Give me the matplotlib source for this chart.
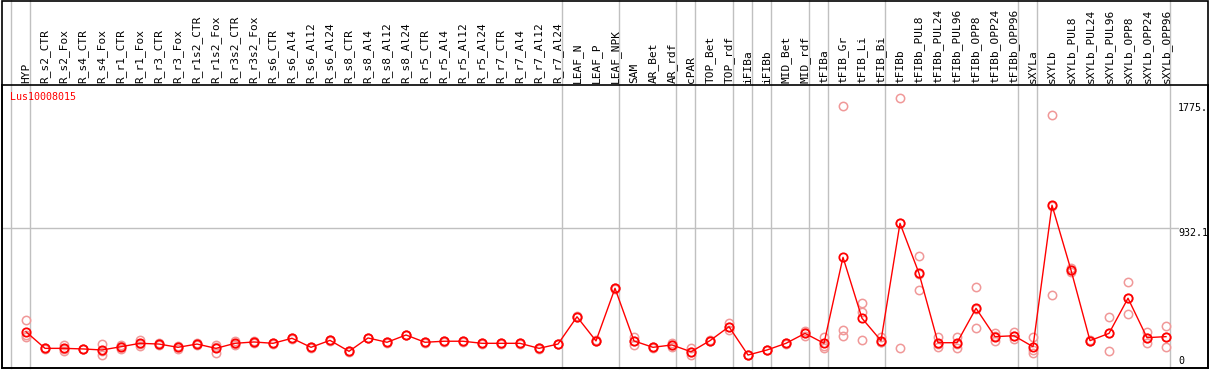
import matplotlib
matplotlib.use("Agg")
import matplotlib.pyplot as plt
import matplotlib.transforms as mtransforms
from matplotlib.patches import Rectangle

# sample columns, left to right
labels = ["HYP",
          "R_s2_CTR", "R_s2_Fox", "R_s4_CTR", "R_s4_Fox", "R_r1_CTR", "R_r1_Fox",
          "R_r3_CTR", "R_r3_Fox", "R_r1s2_CTR", "R_r1s2_Fox", "R_r3s2_CTR", "R_r3s2_Fox",
          "R_s6_CTR", "R_s6_Al4", "R_s6_Al12", "R_s6_Al24", "R_s8_CTR", "R_s8_Al4",
          "R_s8_Al12", "R_s8_Al24", "R_r5_CTR", "R_r5_Al4", "R_r5_Al12", "R_r5_Al24",
          "R_r7_CTR", "R_r7_Al4", "R_r7_Al12", "R_r7_Al24",
          "LEAF_N", "LEAF_P", "LEAF_NPK",
          "SAM", "AR_Bet", "AR_rdf", "cPAR", "TOP_Bet", "TOP_rdf", "iFIBa", "iFIBb",
          "MID_Bet", "MID_rdf", "tFIBa", "tFIB_Gr", "tFIB_Li", "tFIB_Bi",
          "tFIBb", "tFIBb_PUL8", "tFIBb_PUL24", "tFIBb_PUL96", "tFIBb_OPP8",
          "tFIBb_OPP24", "tFIBb_OPP96",
          "sXYLa", "sXYLb", "sXYLb_PUL8", "sXYLb_PUL24", "sXYLb_PUL96", "sXYLb_OPP8",
          "sXYLb_OPP24", "sXYLb_OPP96"]

# number of columns in each separated group
group_sizes = [1, 28, 3, 3, 1, 2, 1, 1, 2, 1, 3, 7, 1, 7]

# mean expression per column (the joined line)
means = [231, 119, 119, 115, 108, 130, 153, 148, 126, 148, 119, 153,
         162, 153, 187, 126, 173, 99, 189, 160, 209, 160, 167, 167, 153,
         153, 153, 119, 148,
         332, 169, 524,
         169, 126, 142, 96, 171, 265, 74, 108, 153, 220, 153, 733, 322, 171,
         962, 625, 157, 157, 389, 198, 204,
         130, 1084, 647, 171, 220, 457, 191, 198]

# replicate values (three per column)
reps = [[310, 209, 196], [119, 116, 122], [142, 103, 112], [115, 112, 118],
        [148, 74, 102], [142, 115, 133], [175, 135, 149], [155, 142, 147],
        [135, 115, 128], [155, 142, 147], [142, 86, 129], [167, 142, 150],
        [162, 158, 166], [153, 150, 156], [187, 184, 190], [126, 123, 129],
        [173, 170, 176], [99, 96, 102], [189, 186, 192], [160, 157, 163],
        [209, 206, 212], [160, 157, 163], [167, 164, 170], [167, 164, 170],
        [153, 150, 156], [153, 150, 156], [153, 150, 156], [119, 116, 122],
        [148, 145, 151],
        [332, 329, 335], [169, 166, 172], [524, 521, 527],
        [194, 142, 171], [126, 123, 129], [157, 126, 143], [119, 74, 95],
        [171, 168, 174], [292, 243, 260], [74, 71, 77], [108, 105, 111],
        [153, 150, 156], [238, 202, 220], [198, 123, 138], [1753, 243, 202],
        [423, 362, 175], [194, 160, 159],
        [1805, 119, 962], [742, 512, 621], [194, 130, 147], [198, 123, 150],
        [531, 254, 382], [220, 169, 205], [231, 180, 201],
        [198, 108, 90], [1693, 479, 1080], [659, 636, 646], [171, 168, 174],
        [332, 103, 225], [564, 349, 458], [229, 153, 191], [272, 126, 196]]

ytick_vals = [0, 932.1, 1775.0]
ytick_text = ["0", "932.1", "1775."]
gene = "Lus10008015"

W, H = 1209, 370
fig = plt.figure(figsize=(W / 100, H / 100), dpi=100)
ax = fig.add_axes([2 / W, 2 / H, 1206 / W, 283 / H])
ax.set_xlim(-24 / 19, 1182 / 19)
ax.set_ylim(-2 / 0.1483, 281 / 0.1483)
ax.set_xticks([])
ax.set_yticks([])
for s in ax.spines.values():
    s.set_color("black")
    s.set_linewidth(1.2)

# outer frame including the label header
fig.patches.append(Rectangle((2 / W, 2 / H), 1206 / W, 367 / H, transform=fig.transFigure,
                             fill=False, edgecolor="black", linewidth=1.2))

# group separators run through the header too
top_ext = 1 + 85 / 283
edge = 0
ax.axvline(edge - 15 / 19, ymin=0, ymax=top_ext, color="#c0c0c0", lw=1, clip_on=False, zorder=1)
for g in group_sizes:
    edge += g
    ax.axvline(edge - 15 / 19, ymin=0, ymax=top_ext, color="#c0c0c0", lw=1, clip_on=False, zorder=1)

ax.axhline(ytick_vals[1], xmin=0, xmax=1176 / 1206, color="#c0c0c0", lw=1, zorder=1)

x = list(range(len(labels)))
for i, r in enumerate(reps):
    ax.plot([i] * len(r), r, "o", ms=6, mfc="none", mec="#f09898", mew=1.1, zorder=2)
ax.plot(x, means, "-", color="red", lw=1, zorder=3)
ax.plot(x, means, "o", ms=6, mfc="none", mec="red", mew=1.3, zorder=4)

trans = mtransforms.blended_transform_factory(ax.transData, ax.transAxes)
for i, lab in enumerate(labels):
    ax.text(i, 1 + 2 / 283, lab, rotation=90, ha="center", va="bottom", transform=trans,
            family="DejaVu Sans Mono", fontsize=8, color="black")

tx = (1178 - 2) / 1206
ax.text(tx, ytick_vals[0], ytick_text[0], ha="left", va="bottom",
        transform=mtransforms.blended_transform_factory(ax.transAxes, ax.transData),
        family="DejaVu Sans Mono", fontsize=7.2)
for v, t in zip(ytick_vals[1:], ytick_text[1:]):
    ax.text(tx, v, t, ha="left", va="top",
            transform=mtransforms.blended_transform_factory(ax.transAxes, ax.transData),
            family="DejaVu Sans Mono", fontsize=7.2)

ax.text(8 / 1206, 1 - 12 / 283, gene, ha="left", va="center", transform=ax.transAxes,
        family="DejaVu Sans Mono", fontsize=7.2, color="red")

fig.savefig("out.png", dpi=100)
